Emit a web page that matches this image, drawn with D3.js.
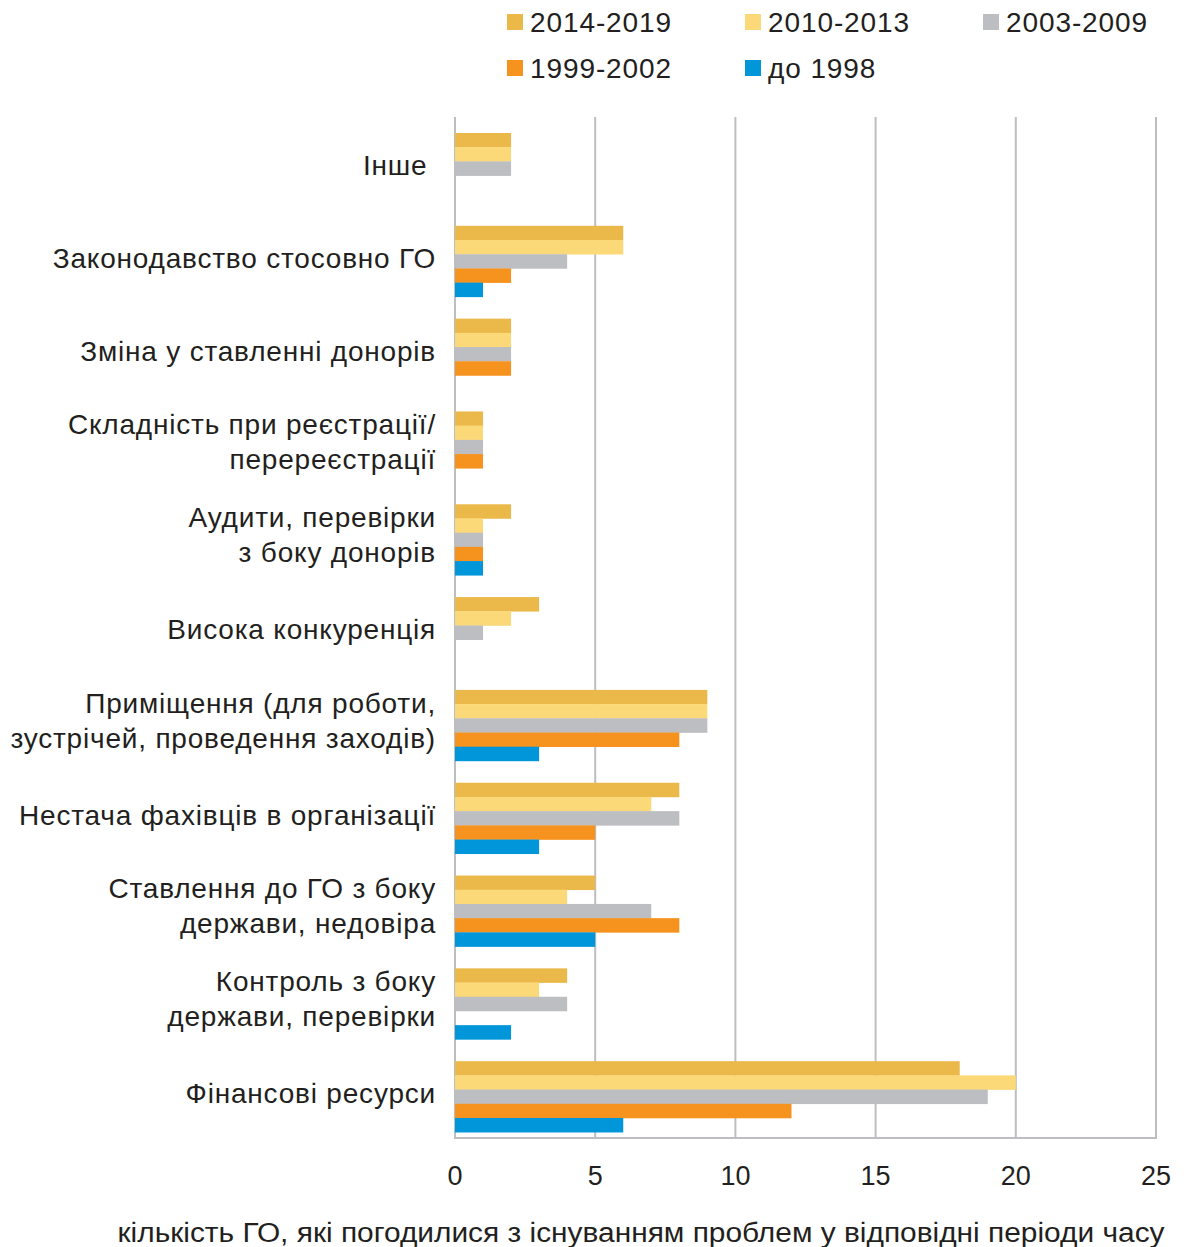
<!DOCTYPE html>
<html>
<head>
<meta charset="utf-8">
<script src="https://cdn.jsdelivr.net/npm/d3@7"></script>
<style>
  body { margin: 0; background: #fff; }
  text { font-family: "Liberation Sans", Arial, sans-serif; fill: #231f20; }
</style>
</head>
<body>
<svg id="chart" width="1186" height="1247"></svg>
<script>
const categories = [
  ["Інше "],
  ["Законодавство стосовно ГО"],
  ["Зміна у ставленні донорів"],
  ["Складність при реєстрації/", "перереєстрації"],
  ["Аудити, перевірки", "з боку донорів"],
  ["Висока конкуренція"],
  ["Приміщення (для роботи,", "зустрічей, проведення заходів)"],
  ["Нестача фахівців в організації"],
  ["Ставлення до ГО з боку", "держави, недовіра"],
  ["Контроль з боку", "держави, перевірки"],
  ["Фінансові ресурси"]
];

const periods = ["2014-2019", "2010-2013", "2003-2009", "1999-2002", "до 1998"];
const colors = ["#ebb94a", "#fcd978", "#bdbec1", "#f6921e", "#0096d9"];

const s2014_2019 = [2, 6, 2, 1, 2, 3, 9, 8, 5, 4, 18];
const s2010_2013 = [2, 6, 2, 1, 1, 2, 9, 7, 4, 3, 20];
const s2003_2009 = [2, 4, 2, 1, 1, 1, 9, 8, 7, 4, 19];
const s1999_2002 = [0, 2, 2, 1, 1, 0, 8, 5, 8, 0, 12];
const sTo1998    = [0, 1, 0, 0, 1, 0, 3, 3, 5, 2, 6];
const series = [s2014_2019, s2010_2013, s2003_2009, s1999_2002, sTo1998];

const ticks = [0, 5, 10, 15, 20, 25];
const axisTitle = "кількість ГО, які погодилися з існуванням проблем у відповідні періоди часу";

const svg = d3.select("#chart");
const grid = "#bdbec1";

const x = d3.scaleLinear().domain([0, 25]).range([455, 1156]);
const y0 = d3.scaleBand().domain(d3.range(categories.length)).range([117, 1138]);
const y1 = d3.scaleBand().domain(d3.range(periods.length)).range([16, 87]);

// gridlines
svg.append("g").selectAll("line").data(ticks).join("line")
  .attr("x1", d => x(d)).attr("x2", d => x(d))
  .attr("y1", 117).attr("y2", 1139)
  .attr("stroke", grid).attr("stroke-width", 2);

// bars
categories.forEach((c, i) => {
  const g = svg.append("g").attr("transform", `translate(0,${y0(i)})`);
  series.forEach((s, k) => {
    if (s[i] <= 0) return;
    g.append("rect")
      .attr("x", x(0))
      .attr("y", y1(k))
      .attr("width", x(s[i]) - x(0))
      .attr("height", y1.bandwidth() + 0.3)
      .attr("fill", colors[k]);
  });
});

// baseline
svg.append("line")
  .attr("x1", x(0) - 1).attr("x2", x(25) + 1)
  .attr("y1", 1138).attr("y2", 1138)
  .attr("stroke", grid).attr("stroke-width", 2);

// category labels
categories.forEach((lines, i) => {
  const lh = 35;
  const cy = y0(i) + 16 + 71 / 2 - (lines.length > 1 ? 5 : 3);
  lines.forEach((ln, j) => {
    svg.append("text")
      .attr("x", 436)
      .attr("y", cy + (j - (lines.length - 1) / 2) * lh)
      .attr("dy", "0.35em")
      .attr("text-anchor", "end")
      .attr("xml:space", "preserve")
      .style("font-size", "28px")
      .style("letter-spacing", "0.8px")
      .style("white-space", "pre")
      .text(ln);
  });
});

// tick labels
svg.append("g").selectAll("text").data(ticks).join("text")
  .attr("x", d => x(d))
  .attr("y", 1185)
  .attr("text-anchor", "middle")
  .style("font-size", "27px")
  .text(d => d);

// axis title
svg.append("text")
  .attr("x", 641)
  .attr("y", 1242)
  .attr("text-anchor", "middle")
  .attr("textLength", 1047)
  .attr("lengthAdjust", "spacingAndGlyphs")
  .style("font-size", "27px")
  .text(axisTitle);

// legend
const legendPos = [[507, 22], [745, 22], [983, 22], [507, 68], [745, 68]];
periods.forEach((p, k) => {
  const [lx, ly] = legendPos[k];
  svg.append("rect")
    .attr("x", lx).attr("y", ly - 8)
    .attr("width", 16).attr("height", 16)
    .attr("fill", colors[k]);
  svg.append("text")
    .attr("x", lx + 23).attr("y", ly)
    .attr("dy", "0.35em")
    .style("font-size", "28px")
    .style("letter-spacing", "0.9px")
    .text(p);
});
</script>
</body>
</html>
